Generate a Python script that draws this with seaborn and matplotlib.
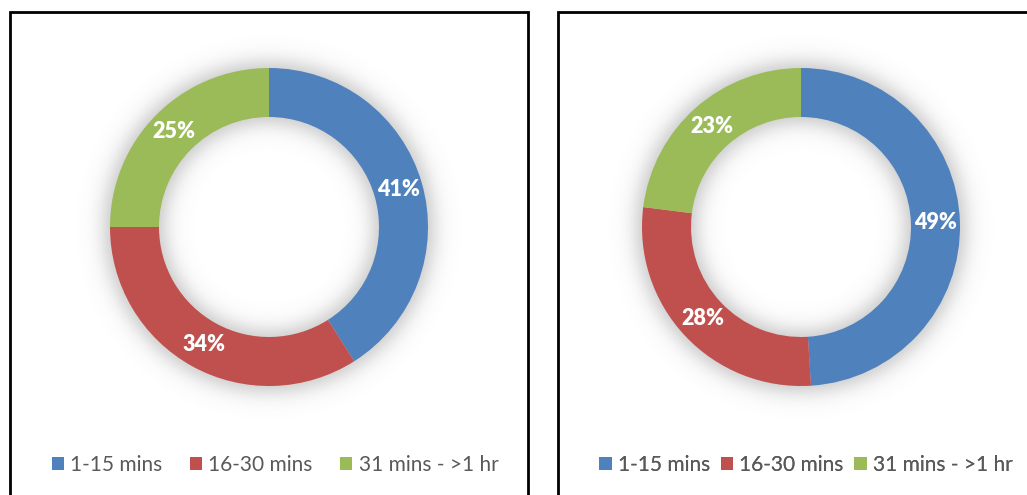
import numpy as np
import matplotlib
matplotlib.use("Agg")
import matplotlib.pyplot as plt
import seaborn as sns
from matplotlib.patches import Rectangle, Patch

categories = ["1-15 mins", "16-30 mins", "31 mins - >1 hr"]
left_values = [41, 34, 25]
right_values = [49, 28, 23]
colors = ["#4F81BD", "#C0504D", "#9BBB59"]

sns.set_theme(style="white")
plt.rcParams["font.family"] = ["Lato", "DejaVu Sans"]

W, H = 1027, 495
fig = plt.figure(figsize=(W / 100, H / 100), dpi=100)
ax = fig.add_axes([0, 0, 1, 1])

R_OUT, R_IN = 159, 110


def shadow(cx, cy):
    # soft grey halo round the ring
    pad = 70
    xs = np.arange(cx - R_OUT - pad, cx + R_OUT + pad)
    ys = np.arange(cy - R_OUT - pad, cy + R_OUT + pad)
    X, Y = np.meshgrid(xs, ys)
    d = np.hypot(X - cx, Y - cy)
    s = 12.0
    a = 0.5 * (np.tanh((R_OUT + 6 - d) / s) - np.tanh((R_IN - 6 - d) / s))
    rgba = np.zeros(d.shape + (4,))
    rgba[..., :3] = 0.5
    rgba[..., 3] = 0.45 * a
    ax.imshow(rgba, extent=(xs[0], xs[-1], ys[0], ys[-1]), origin="lower",
              zorder=1, interpolation="bilinear")


def donut(values, cx, cy_px):
    cy = H - cy_px
    shadow(cx, cy)
    wedges, _, autotexts = ax.pie(
        values, colors=colors, startangle=90, counterclock=False,
        radius=R_OUT, center=(cx, cy), autopct="%d%%", pctdistance=0.845,
        wedgeprops=dict(width=R_OUT - R_IN, edgecolor="none"),
        textprops=dict(color="white", fontsize=15.5, fontweight="heavy"),
        frame=True)
    for w in wedges:
        w.set_zorder(2)
    for t in autotexts:
        t.set_zorder(3)


donut(left_values, 269, 227)
donut(right_values, 801, 227)
ax.set_xlim(0, W)
ax.set_ylim(0, H)
ax.set_aspect("auto")
ax.axis("off")

# panel borders
for x0, x1 in [(10, 528), (558, 1080)]:
    ax.add_patch(Rectangle((x0, H - 520), x1 - x0, 520 - 12, fill=False,
                           edgecolor="black", linewidth=2, zorder=5,
                           clip_on=False))

handles = [Patch(facecolor=c, edgecolor="none") for c in colors]
for cx, spacing in [(275, 1.3), (806, 0.5)]:
    leg = ax.legend(handles, categories, loc="center", ncol=3,
                    bbox_to_anchor=(cx, H - 465), bbox_transform=ax.transData,
                    frameon=False, fontsize=15, handlelength=0.6,
                    handleheight=0.6, handletextpad=0.3,
                    columnspacing=spacing, labelcolor="#595959")
    ax.add_artist(leg)

fig.savefig("out.png", dpi=100)
